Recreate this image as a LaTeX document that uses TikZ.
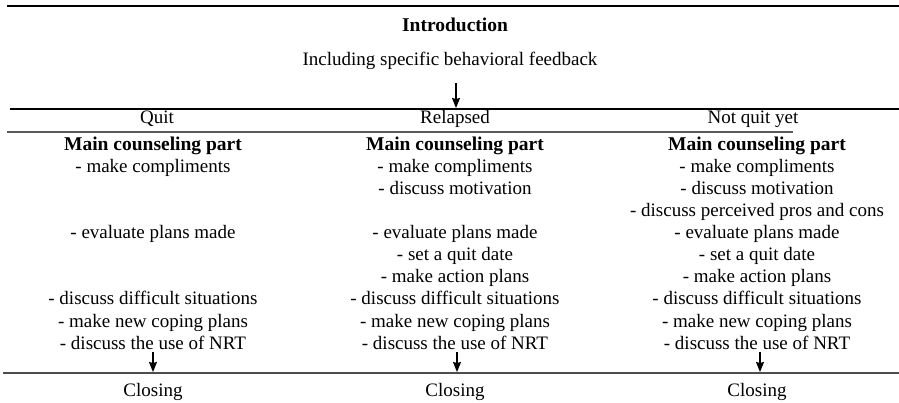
\documentclass[tikz,border=0pt]{standalone}
\usepackage{fontspec}
\setmainfont{Liberation Serif}
\usetikzlibrary{arrows.meta}
\begin{document}
\begin{tikzpicture}[x=1pt,y=-1pt,
  txt/.style={font=\fontsize{19}{22}\selectfont, inner sep=0pt, anchor=base},
  hd/.style={txt, font=\fontsize{19.5}{22}\selectfont\bfseries},
  rule/.style={line width=1.2pt, black},
  grule/.style={line width=1.4pt, black!65},
  brule/.style={line width=1.7pt, black!70},
  flow/.style={-{Stealth[length=10pt,width=8pt,inset=1pt]}, line width=1.1pt}]
\useasboundingbox (0,0) rectangle (899,403);
% rules
\coordinate (t0) at (7,6);   \coordinate (t1) at (899,6);
\coordinate (h0) at (10,109); \coordinate (h1) at (899,109);
\coordinate (g0) at (7,132);  \coordinate (g1) at (793,132);
\coordinate (b0) at (3,373);  \coordinate (b1) at (899,373);
\draw[rule] (t0) -- (t1);
\draw[rule] (h0) -- (h1);
\draw[grule] (g0) -- (g1);
\draw[brule] (b0) -- (b1);
% introduction
\node[hd] (intro) at (455,32) {Introduction};
\node[txt] (incl) at (450,66) {Including specific behavioral feedback};
\coordinate (ia) at (456,83);
\coordinate (ib) at (456,108);
\draw[flow] (ia) -- (ib);
% headers
\node[txt] (hq) at (157,124) {Quit};
\node[txt] (hr) at (455,124) {Relapsed};
\node[txt] (hn) at (753,124) {Not quit yet};
% main counseling part
\node[hd] (q0) at (153,151) {Main counseling part};
\node[hd] (r0) at (455,151) {Main counseling part};
\node[hd] (n0) at (757,151) {Main counseling part};
\foreach \c/\x/\r/\t in {
  q/153/1/{- make compliments},
  q/153/4/{- evaluate plans made},
  q/153/7/{- discuss difficult situations},
  q/153/8/{- make new coping plans},
  q/153/9/{- discuss the use of NRT},
  r/455/1/{- make compliments},
  r/455/2/{- discuss motivation},
  r/455/4/{- evaluate plans made},
  r/455/5/{- set a quit date},
  r/455/6/{- make action plans},
  r/455/7/{- discuss difficult situations},
  r/455/8/{- make new coping plans},
  r/455/9/{- discuss the use of NRT},
  n/757/1/{- make compliments},
  n/757/2/{- discuss motivation},
  n/757/3/{- discuss perceived pros and cons},
  n/757/4/{- evaluate plans made},
  n/757/5/{- set a quit date},
  n/757/6/{- make action plans},
  n/757/7/{- discuss difficult situations},
  n/757/8/{- make new coping plans},
  n/757/9/{- discuss the use of NRT}}
  \node[txt] (\c\r) at (\x,{151+22*\r}) {\t};
% closing
\coordinate (qc) at (153,372);
\coordinate (rc) at (457,372);
\coordinate (nc) at (760,372);
\draw[flow] ([shift={(0,3)}]q9.south) -- (qc);
\draw[flow] ([shift={(2,3)}]r9.south) -- (rc);
\draw[flow] ([shift={(3,3)}]n9.south) -- (nc);
\node[txt] (cq) at (153,396) {Closing};
\node[txt] (cr) at (455,396) {Closing};
\node[txt] (cn) at (757,396) {Closing};
\end{tikzpicture}
\end{document}
